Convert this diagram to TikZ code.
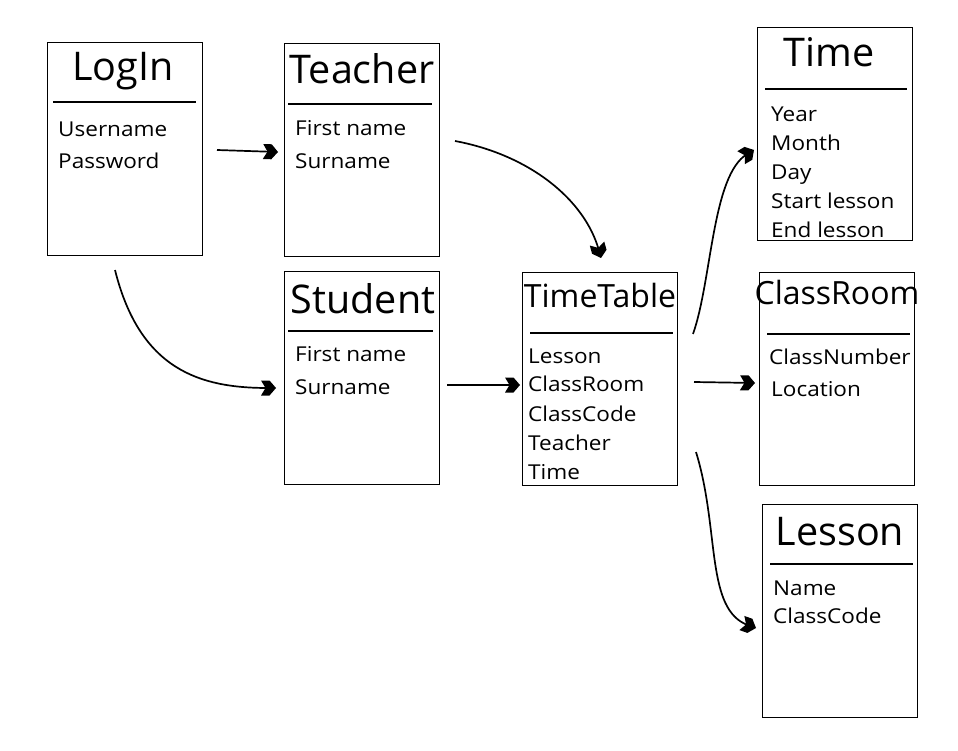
\documentclass[tikz,border=0pt]{standalone}
\usepackage{fontspec}
\setmainfont{Open Sans}
\newfontfamily\bodyfont[FakeStretch=1.1]{Open Sans}
\usetikzlibrary{arrows.meta}
\pgfdeclarearrow{
  name = Chev,
  setup code = {
    \pgfarrowssettipend{0pt}
    \pgfarrowssetbackend{-15pt}
    \pgfarrowssetlineend{-8pt}
    \pgfarrowssetvisualbackend{-10pt}
  },
  drawing code = {
    \pgfpathmoveto{\pgfpoint{0pt}{0pt}}
    \pgfpathlineto{\pgfpoint{-6.5pt}{7.5pt}}
    \pgfpathlineto{\pgfpoint{-15pt}{7.5pt}}
    \pgfpathlineto{\pgfpoint{-10.5pt}{0pt}}
    \pgfpathlineto{\pgfpoint{-15pt}{-7.5pt}}
    \pgfpathlineto{\pgfpoint{-6.5pt}{-7.5pt}}
    \pgfpathclose
    \pgfusepathqfill
  }
}
\tikzset{
  box/.style={draw, line width=0.9pt, minimum width=155pt, minimum height=213pt, inner sep=0pt},
  divider/.style={line width=1.8pt},
  ttl/.style={font=\fontsize{39.5}{41}\selectfont, inner sep=0pt, anchor=base},
  ttlsm/.style={font=\fontsize{32}{34}\selectfont, inner sep=0pt, anchor=base},
  item/.style={font=\bodyfont\fontsize{20.5}{22}\selectfont, anchor=base west, inner sep=0pt},
  conn/.style={line width=1.7pt, -{Chev}}
}
\begin{document}
\begin{tikzpicture}[x=1pt,y=-1pt]
\useasboundingbox (0,0) rectangle (958,751);
% boxes
\node[box] (login) at (124.5,148.5) {};
\node[box] (teacher) at (362,149.5) {};
\node[box] (student) at (362,377.5) {};
\node[box] (tt) at (600,378.5) {};
\node[box] (time) at (835,133.5) {};
\node[box] (classroom) at (837,378.5) {};
\node[box] (lesson) at (840,611) {};
% dividers
\draw[divider] (53,102) -- (196,102);
\draw[divider] (288,104) -- (432,104);
\draw[divider] (288,331) -- (433,331);
\draw[divider] (530,333) -- (673,333);
\draw[divider] (765,89) -- (907,89);
\draw[divider] (767,334) -- (910,334);
\draw[divider] (770,564) -- (913,564);
% titles
\node[ttl] (tlogin) at (123,81) {LogIn};
\node[ttl] (tteacher) at (362,84) {Teacher};
\node[ttl] (tstudent) at (363,313) {Student};
\node[ttlsm] (ttt) at (600,307) {TimeTable};
\node[ttl] (ttime) at (829,67) {Time};
\node[ttlsm] (tclass) at (837,304) {ClassRoom};
\node[ttl] (tlesson) at (840,545) {Lesson};
% items
\node[item] (l1) at (58,137) {Username};
\node[item] (l2) at (58,169) {Password};
\node[item] (t1) at (295,136) {First name};
\node[item] (t2) at (295,169) {Surname};
\node[item] (s1) at (295,361) {First name};
\node[item] (s2) at (295,394) {Surname};
\node[item] (tt1) at (528,363) {Lesson};
\node[item] (tt2) at (528,391) {ClassRoom};
\node[item] (tt3) at (528,421) {ClassCode};
\node[item] (tt4) at (528,450) {Teacher};
\node[item] (tt5) at (528,479) {Time};
\node[item] (ti1) at (771,122) {Year};
\node[item] (ti2) at (771,151) {Month};
\node[item] (ti3) at (771,180) {Day};
\node[item] (ti4) at (771,209) {Start lesson};
\node[item] (ti5) at (771,238) {End lesson};
\node[item] (c1) at (769,364) {ClassNumber};
\node[item] (c2) at (771,396) {Location};
\node[item] (le1) at (773,595) {Name};
\node[item] (le2) at (773,623) {ClassCode};
% connector ends
\coordinate (a1s) at (217,150); \coordinate (a1e) at (278,152);
\coordinate (a2s) at (115,270); \coordinate (a2e) at (276,388);
\coordinate (a3s) at (455,141); \coordinate (a3e) at (601,258);
\coordinate (a4s) at (447,385); \coordinate (a4e) at (520,385);
\coordinate (a5s) at (693,334); \coordinate (a5e) at (754,150);
\coordinate (a6s) at (694,382); \coordinate (a6e) at (755,383);
\coordinate (a7s) at (696,452); \coordinate (a7e) at (756,628);
\draw[conn] (a1s) -- (a1e);
\draw[conn] (a2s) .. controls (140,370) and (200,388) .. (a2e);
\draw[conn] (a3s) .. controls (530,155) and (585,200) .. (a3e);
\draw[conn] (a4s) -- (a4e);
\draw[conn] (a5s) .. controls (712,280) and (712,175) .. (a5e);
\draw[conn] (a6s) -- (a6e);
\draw[conn] (a7s) .. controls (720,530) and (705,610) .. (a7e);
\end{tikzpicture}
\end{document}
